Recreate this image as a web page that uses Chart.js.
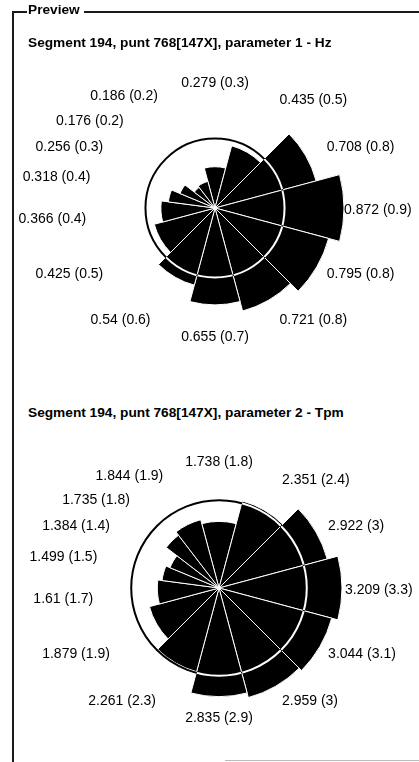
<!DOCTYPE html>
<html>
<head>
<meta charset="utf-8">
<script src="https://cdn.jsdelivr.net/npm/chart.js@4.4.1/dist/chart.umd.min.js"></script>
<style>
  html, body { margin: 0; padding: 0; background: #fff; }
  body { width: 419px; height: 762px; position: relative; overflow: hidden; font-family: "Liberation Sans", Arial, sans-serif; }
  .t { position: absolute; font-weight: bold; font-size: 13.7px; line-height: 14px; color: #000; white-space: nowrap; z-index: 3; }
  .ln { position: absolute; background: #1a1a1a; z-index: 3; }
  canvas { position: absolute; left: 0; z-index: 1; }
</style>
</head>
<body>
<div class="ln" style="left:12px; top:11px; width:2px; height:751px;"></div>
<div class="ln" style="left:12px; top:11px; width:15px; height:2px;"></div>
<div class="ln" style="left:84px; top:11px; width:335px; height:2px;"></div>
<div class="ln" style="left:225px; top:760px; width:194px; height:1px; background:#bbb;"></div>
<div class="t" style="left:28px; top:3px;">Preview</div>
<div class="t" id="title1" style="left:28px; top:36px;"></div>
<div class="t" id="title2" style="left:28px; top:406px;"></div>
<canvas id="c1" width="419" height="300" style="top:60px;"></canvas>
<canvas id="c2" width="419" height="300" style="top:440px;"></canvas>
<script>
// ---- data ----
const title1 = "Segment 194, punt 768[147X], parameter 1 - Hz";
const title2 = "Segment 194, punt 768[147X], parameter 2 - Tpm";

// direction bins: widths in degrees, first bin centred on north
const binStartDeg = -15;
const binWidths = [30, 30, 30, 30, 30, 30, 30, 30, 30, 22.5, 15, 15, 15, 22.5];

// parameter 1 - Hz
const hzValues = [0.279, 0.435, 0.708, 0.872, 0.795, 0.721, 0.655, 0.54, 0.425, 0.366, 0.318, 0.256, 0.176, 0.186];
const hzRounded = [0.3, 0.5, 0.8, 0.9, 0.8, 0.8, 0.7, 0.6, 0.5, 0.4, 0.4, 0.3, 0.2, 0.2];
const hzCircle = 0.47;

// parameter 2 - Tpm
const tpmValues = [1.738, 2.351, 2.922, 3.209, 3.044, 2.959, 2.835, 2.261, 1.879, 1.61, 1.499, 1.384, 1.735, 1.844];
const tpmRounded = [1.8, 2.4, 3, 3.3, 3.1, 3, 2.9, 2.3, 1.9, 1.7, 1.5, 1.4, 1.8, 1.9];
const tpmCircle = 2.29;

document.getElementById('title1').textContent = title1;
document.getElementById('title2').textContent = title2;

const roseExtras = {
  id: 'roseExtras',
  beforeDraw(chart) {
    const ctx = chart.ctx;
    ctx.save();
    ctx.fillStyle = '#fff';
    ctx.fillRect(0, 0, chart.width, chart.height);
    ctx.restore();
  },
  afterDatasetsDraw(chart, args, opts) {
    const ctx = chart.ctx;
    const scale = chart.scales.r;
    const cx = scale.xCenter, cy = scale.yCenter;
    // reference circle (drawn inverted like the original)
    ctx.save();
    ctx.globalCompositeOperation = 'difference';
    ctx.strokeStyle = '#fff';
    ctx.lineWidth = 2;
    ctx.beginPath();
    ctx.arc(cx, cy, scale.getDistanceFromCenterForValue(opts.circle), 0, Math.PI * 2);
    ctx.stroke();
    ctx.restore();
    // labels
    const meta = chart.getDatasetMeta(0);
    const ds = chart.data.datasets[0];
    ctx.save();
    ctx.fillStyle = '#000';
    ctx.font = '14px "Liberation Sans", Arial, sans-serif';
    ctx.textBaseline = 'middle';
    meta.data.forEach((arc, i) => {
      const p = arc.getProps(['startAngle', 'endAngle'], true);
      const mid = (p.startAngle + p.endAngle) / 2;
      const x = cx + opts.labelRadiusX * Math.cos(mid);
      const y = cy + opts.labelRadiusY * Math.sin(mid) + 2.5;
      let deg = ((mid * 180 / Math.PI + 90) % 360 + 360) % 360;
      if (deg < 6 || deg > 354 || Math.abs(deg - 180) < 6) ctx.textAlign = 'center';
      else if (deg < 180) ctx.textAlign = 'left';
      else ctx.textAlign = 'right';
      ctx.fillText(ds.data[i] + ' (' + opts.rounded[i] + ')', x, y);
    });
    ctx.restore();
  }
};

function makeRose(id, values, rounded, circle, pad, lrx, lry) {
  return new Chart(document.getElementById(id), {
    type: 'polarArea',
    data: {
      labels: values.map((v, i) => String(i)),
      datasets: [{
        data: values,
        angle: binWidths,
        backgroundColor: '#000',
        borderColor: '#fff',
        borderWidth: 1
      }]
    },
    options: {
      responsive: false,
      animation: false,
      devicePixelRatio: 1,
      layout: { padding: pad },
      scales: {
        r: {
          min: 0,
          max: Math.max(...values),
          startAngle: binStartDeg,
          ticks: { display: false },
          grid: { display: false },
          angleLines: { display: false },
          pointLabels: { display: false }
        }
      },
      plugins: {
        legend: { display: false },
        tooltip: { enabled: false },
        roseExtras: { circle: circle, rounded: rounded, labelRadiusX: lrx, labelRadiusY: lry }
      }
    },
    plugins: [roseExtras]
  });
}

makeRose('c1', hzValues, hzRounded, hzCircle, { left: 86, top: 19, right: 75, bottom: 23 }, 129, 127);
makeRose('c2', tpmValues, tpmRounded, tpmCircle, { left: 96, top: 25, right: 77, bottom: 29 }, 126, 128);
</script>
</body>
</html>
